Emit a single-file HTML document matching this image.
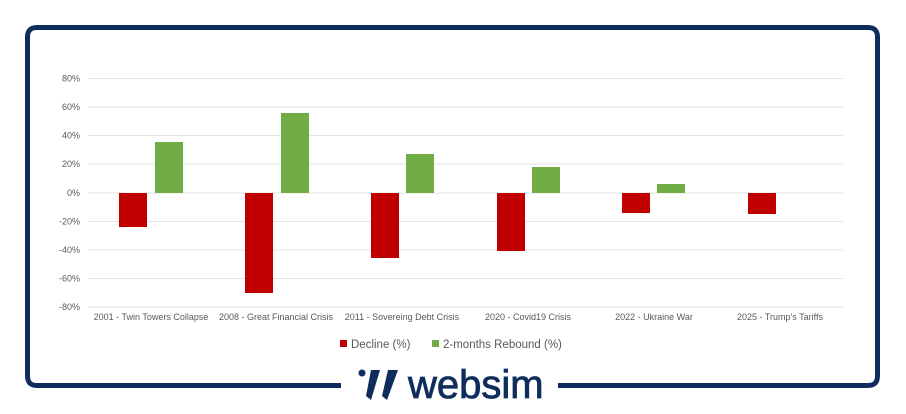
<!DOCTYPE html>
<html><head><meta charset="utf-8"><style>
html,body{margin:0;padding:0;background:#fff;}
svg{display:block;font-family:"Liberation Sans",sans-serif;}
</style></head><body>
<svg width="906" height="414" viewBox="0 0 906 414" xmlns="http://www.w3.org/2000/svg">
<rect x="0" y="0" width="906" height="414" fill="#fff"/>
<path d="M341 385.5 H37 Q27.5 385.5 27.5 376 V37 Q27.5 27.5 37 27.5 H868 Q877.5 27.5 877.5 37 V376 Q877.5 385.5 868 385.5 H558" fill="none" stroke="#0f2d5c" stroke-width="5"/>
<g stroke="#e3e3e3" stroke-width="1">
<line x1="88" x2="843" y1="78.5" y2="78.5"/>
<line x1="88" x2="843" y1="107" y2="107"/>
<line x1="88" x2="843" y1="135.5" y2="135.5"/>
<line x1="88" x2="843" y1="164" y2="164"/>
<line x1="88" x2="843" y1="193" y2="193"/>
<line x1="88" x2="843" y1="221.5" y2="221.5"/>
<line x1="88" x2="843" y1="250" y2="250"/>
<line x1="88" x2="843" y1="278.5" y2="278.5"/>
<line x1="88" x2="843" y1="307" y2="307"/>
</g>
<g font-size="9" fill="#595959" text-anchor="end">
<text x="80" y="81.5">80%</text><text x="80" y="110">60%</text><text x="80" y="138.5">40%</text>
<text x="80" y="167">20%</text><text x="80" y="196">0%</text><text x="80" y="224.5">-20%</text>
<text x="80" y="253">-40%</text><text x="80" y="281.5">-60%</text><text x="80" y="310">-80%</text>
</g>
<g fill="#c00000">
<rect x="119" y="193" width="28" height="34"/>
<rect x="245" y="193" width="28" height="100"/>
<rect x="371" y="193" width="28" height="65"/>
<rect x="497" y="193" width="28" height="58"/>
<rect x="622" y="193" width="28" height="20"/>
<rect x="748" y="193" width="28" height="21"/>
</g>
<g fill="#70ad47">
<rect x="155" y="142" width="28" height="51"/>
<rect x="281" y="113" width="28" height="80"/>
<rect x="406" y="154" width="28" height="39"/>
<rect x="532" y="167" width="28" height="26"/>
<rect x="657" y="184" width="28" height="9"/>
</g>
<g font-size="9" fill="#595959" text-anchor="middle">
<text x="151" y="320">2001 - Twin Towers Collapse</text>
<text x="276" y="320">2008 - Great Financial Crisis</text>
<text x="402" y="320">2011 - Sovereing Debt Crisis</text>
<text x="528" y="320">2020 - Covid19 Crisis</text>
<text x="654" y="320">2022 - Ukraine War</text>
<text x="780" y="320">2025 - Trump's Tariffs</text>
</g>
<rect x="340" y="340" width="7" height="7" fill="#c00000"/>
<text x="351" y="348" font-size="11.5" fill="#595959">Decline (%)</text>
<rect x="432" y="340" width="7" height="7" fill="#70ad47"/>
<text x="443" y="348" font-size="11.5" fill="#595959">2-months Rebound (%)</text>
<g fill="#0f2d5c">
<circle cx="362" cy="373" r="3.5"/>
<polygon points="371,370 380,370 371,400 366,396"/>
<polygon points="388,370 398,370 387,400 382,396"/>
<text x="408" y="398" font-size="40" stroke="#0f2d5c" stroke-width="0.8">websim</text>
</g>
</svg>
</body></html>
